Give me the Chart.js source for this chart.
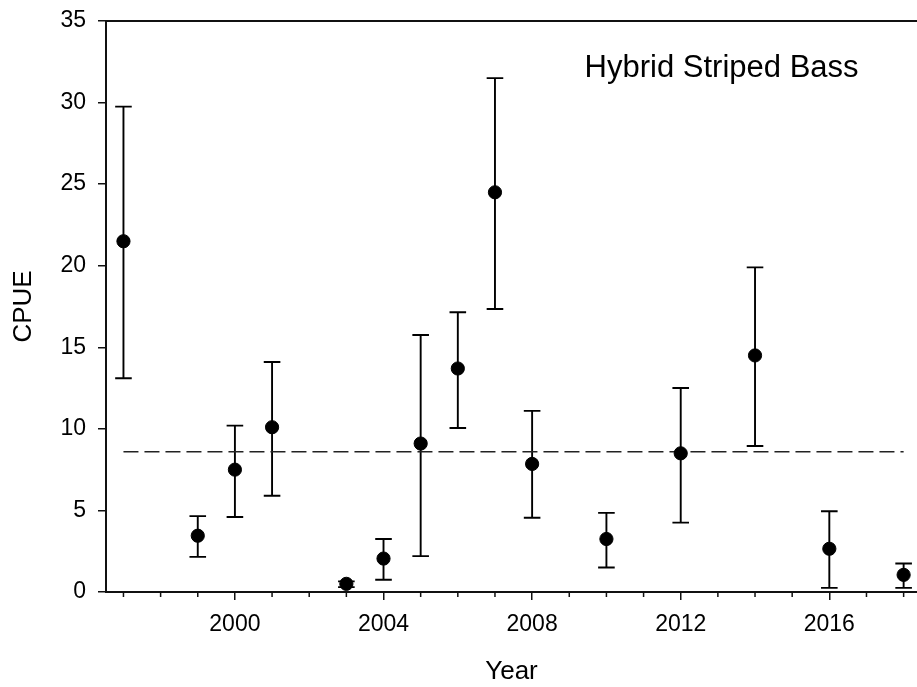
<!DOCTYPE html>
<html>
<head>
<meta charset="utf-8">
<script src="https://cdn.jsdelivr.net/npm/chart.js@4.4.0/dist/chart.umd.min.js"></script>
<style>
html, body { margin: 0; padding: 0; background: #fff; overflow: hidden; }
#wrap { width: 917px; height: 687px; }
</style>
</head>
<body>
<div id="wrap"><canvas id="cpueChart"></canvas></div>
<script>
// ==================== DATA ====================
const years = [1997, 1999, 2000, 2001, 2003, 2004, 2005, 2006, 2007, 2008, 2010, 2012, 2014, 2016, 2018];
const cpue  = [21.5, 3.45, 7.5, 10.1, 0.5, 2.05, 9.1, 13.7, 24.5, 7.85, 3.25, 8.5, 14.5, 2.65, 1.05];
const lower = [13.1, 2.15, 4.6, 5.9, 0.3, 0.75, 2.2, 10.05, 17.35, 4.55, 1.5, 4.25, 8.95, 0.25, 0.25];
const upper = [29.75, 4.65, 10.2, 14.1, 0.65, 3.25, 15.75, 17.15, 31.5, 11.1, 4.85, 12.5, 19.9, 4.95, 1.75];
const meanCPUE = 8.6;
const meanSpan = [1997, 2018];
const speciesLabel = 'Hybrid Striped Bass';

// ==================== PLUGINS ====================
const errorBars = {
    id: 'errorBars',
    beforeDatasetsDraw(chart) {
        const { ctx, scales: { x, y } } = chart;
        ctx.save();
        ctx.strokeStyle = '#000';
        ctx.lineWidth = 1.9;
        years.forEach((yr, i) => {
            const px = x.getPixelForValue(yr);
            const lo = y.getPixelForValue(lower[i]);
            const hi = y.getPixelForValue(upper[i]);
            ctx.beginPath();
            ctx.moveTo(px, lo); ctx.lineTo(px, hi);
            ctx.moveTo(px - 8.3, lo); ctx.lineTo(px + 8.3, lo);
            ctx.moveTo(px - 8.3, hi); ctx.lineTo(px + 8.3, hi);
            ctx.stroke();
        });
        ctx.restore();
    }
};

const frameAndLabels = {
    id: 'frameAndLabels',
    afterDraw(chart) {
        const { ctx, chartArea: a, scales: { x, y } } = chart;
        ctx.save();
        // top frame line
        ctx.strokeStyle = '#111';
        ctx.lineWidth = 2;
        ctx.beginPath();
        ctx.moveTo(a.left - 1, a.top); ctx.lineTo(a.right, a.top);
        ctx.stroke();
        // minor year ticks
        ctx.lineWidth = 1.5;
        ctx.beginPath();
        for (let yr = Math.ceil(x.min); yr <= x.max; yr++) {
            if (yr % 4 === 0) continue;
            const px = x.getPixelForValue(yr);
            ctx.moveTo(px, a.bottom); ctx.lineTo(px, a.bottom + 5);
        }
        ctx.stroke();
        // species label
        ctx.fillStyle = '#000';
        ctx.font = '31px "Liberation Sans", Arial, sans-serif';
        ctx.textAlign = 'center';
        ctx.textBaseline = 'alphabetic';
        ctx.fillText(speciesLabel, x.getPixelForValue(2013.1), y.getPixelForValue(31.55));
        ctx.restore();
    }
};

const noPad = s => { s.paddingTop = 0; s.paddingBottom = 0; s.paddingLeft = 0; s.paddingRight = 0; };

// ==================== CHART ====================
const ctx = document.getElementById('cpueChart').getContext('2d');
const cpueChart = new Chart(ctx, {
    type: 'scatter',
    data: {
        datasets: [
            {
                data: years.map((yr, i) => ({ x: yr, y: cpue[i] })),
                backgroundColor: '#000', borderColor: '#000',
                pointRadius: 6.6, pointHoverRadius: 6.6
            },
            {
                type: 'line',
                data: meanSpan.map(yr => ({ x: yr, y: meanCPUE })),
                borderColor: '#222', borderWidth: 1.6, borderDash: [15, 6],
                pointRadius: 0, fill: false
            }
        ]
    },
    options: {
        responsive: true,
        maintainAspectRatio: false,
        animation: false,
        layout: { autoPadding: false, padding: { top: 21, left: 0, right: 0, bottom: 0 } },
        plugins: { legend: { display: false }, tooltip: { enabled: false } },
        scales: {
            x: {
                type: 'linear', min: 1996.53, max: 2018.36,
                afterFit: s => { s.height = 95; noPad(s); },
                border: { color: '#111', width: 2 },
                grid: {
                    drawOnChartArea: false, tickLength: 8, lineWidth: 1.5,
                    tickColor: c => (c.tick && c.tick.value % 4 === 0) ? '#111' : 'rgba(0,0,0,0)'
                },
                ticks: {
                    stepSize: 1, autoSkip: false, includeBounds: false, maxRotation: 0,
                    color: '#000', padding: 11,
                    font: { family: '"Liberation Sans", Arial, sans-serif', size: 23 },
                    callback: v => v % 4 === 0 ? String(v) : ''
                },
                title: {
                    display: true, text: 'Year', color: '#000',
                    font: { family: '"Liberation Sans", Arial, sans-serif', size: 26 },
                    padding: { top: 0, bottom: 0 }
                }
            },
            y: {
                min: 0, max: 35,
                afterFit: s => { s.width = 106; noPad(s); },
                border: { color: '#111', width: 2 },
                grid: { drawOnChartArea: false, tickLength: 8, lineWidth: 1.5, color: '#111' },
                ticks: {
                    stepSize: 5, color: '#000', padding: 12,
                    font: { family: '"Liberation Sans", Arial, sans-serif', size: 23 }
                },
                title: {
                    display: true, text: 'CPUE', color: '#000',
                    font: { family: '"Liberation Sans", Arial, sans-serif', size: 26 },
                    padding: { top: 8, bottom: 0 }
                }
            }
        }
    },
    plugins: [errorBars, frameAndLabels]
});
</script>
</body>
</html>
